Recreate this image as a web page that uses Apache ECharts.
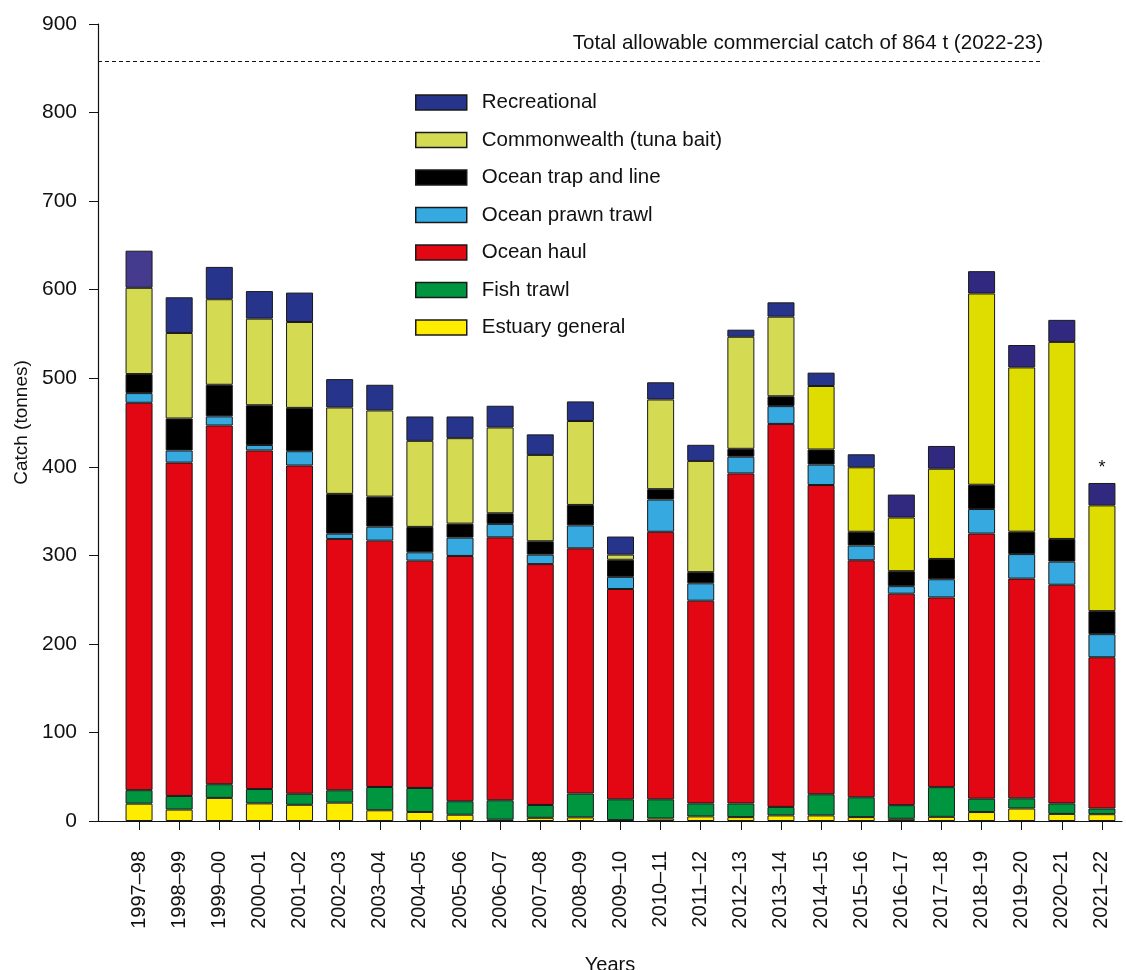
<!DOCTYPE html>
<html>
<head>
<meta charset="utf-8">
<script src="https://cdn.jsdelivr.net/npm/echarts@6/dist/echarts.min.js"></script>
<style>
  html, body { margin: 0; padding: 0; background: #fff; }
  #main { width: 1126px; height: 970px; }
</style>
</head>
<body>
<div id="main"></div>
<script>
(() => {
var years = ['1997–98','1998–99','1999–00','2000–01','2001–02','2002–03','2003–04','2004–05','2005–06','2006–07',
             '2007–08','2008–09','2009–10','2010–11','2011–12','2012–13','2013–14','2014–15','2015–16','2016–17',
             '2017–18','2018–19','2019–20','2020–21','2021–22'];

// catch in tonnes
var estuaryGeneral = [19.6, 12.9, 26.1, 19.9, 18.3, 20.7, 12.1, 10.2, 7.1, 1.5, 3.6, 4.1, 1.0, 2.8, 5.2, 4.4, 6.3, 6.3, 4.4, 2.5, 4.7, 10.1, 14.1, 8.0, 7.7];
var fishTrawl = [15.2, 15.4, 15.4, 16.2, 12.5, 14.0, 26.3, 27.1, 15.2, 21.9, 14.5, 26.9, 23.5, 21.7, 14.7, 15.4, 9.6, 23.9, 22.4, 15.4, 33.5, 15.1, 11.5, 11.9, 6.4];
var oceanHaul = [437.5, 376.4, 405.1, 382.3, 370.6, 283.8, 278.2, 256.7, 277.0, 296.9, 272.0, 276.9, 237.5, 302.1, 228.9, 372.7, 432.5, 349.2, 267.6, 238.8, 214.3, 299.4, 248.1, 246.9, 170.8];
var oceanPrawnTrawl = [10.9, 13.7, 10.3, 6.2, 16.2, 6.0, 15.8, 9.4, 20.7, 15.2, 10.7, 25.9, 13.7, 36.4, 19.6, 18.9, 20.1, 23.1, 16.7, 8.5, 20.5, 27.7, 27.7, 26.1, 26.1];
var oceanTrapLine = [21.5, 36.1, 35.7, 44.9, 48.9, 44.9, 33.9, 28.7, 15.8, 12.0, 15.1, 23.1, 19.3, 11.7, 12.6, 8.9, 11.1, 17.0, 15.5, 16.9, 22.9, 27.4, 25.3, 25.6, 26.0];
var commonwealth = [97.4, 96.6, 96.6, 97.8, 97.0, 97.6, 97.3, 97.2, 96.5, 96.9, 97.5, 94.8, 5.8, 101.3, 125.6, 126.5, 89.9, 71.7, 72.8, 60.6, 101.9, 216.0, 185.5, 222.5, 119.4];
var recreational = [41.9, 40.3, 36.5, 31.1, 33.2, 32.0, 29.0, 27.5, 24.5, 24.5, 23.2, 22.1, 20.4, 19.4, 18.2, 8.0, 16.2, 15.1, 14.7, 25.9, 25.7, 25.2, 25.3, 24.9, 25.3];

var yTicks = [0, 100, 200, 300, 400, 500, 600, 700, 800, 900];
var tacLine = 858;
var tacText = 'Total allowable commercial catch of 864 t (2022-23)';

var colors = {
    'Recreational': '#27348b',
    'Commonwealth (tuna bait)': '#d4da52',
    'Ocean trap and line': '#000000',
    'Ocean prawn trawl': '#36a9e0',
    'Ocean haul': '#e30613',
    'Fish trawl': '#009640',
    'Estuary general': '#ffed00'
};

var font = "'Liberation Sans', Arial, sans-serif";
var myChart = echarts.init(document.getElementById('main'));

function bar(name, data, color) {
    return {
        name: name,
        type: 'bar',
        stack: 'catch',
        xAxisIndex: 1,
        yAxisIndex: 1,
        barWidth: 27,
        data: data,
        itemStyle: {
            color: color || colors[name],
            borderColor: '#1a1a1a',
            borderWidth: 1
        },
        emphasis: { disabled: true }
    };
}

var recSeries = bar('Recreational', recreational, function (p) {
    if (p.dataIndex === 0) return '#443a8e';
    if (p.dataIndex >= 19) return '#31287f';
    return '#27348b';
});
recSeries.label = {
    show: true,
    position: 'top',
    distance: 6,
    fontFamily: font,
    fontSize: 18,
    color: '#111',
    formatter: function (p) { return p.dataIndex === years.length - 1 ? '*' : ''; }
};

var legendNames = ['Recreational', 'Commonwealth (tuna bait)', 'Ocean trap and line', 'Ocean prawn trawl', 'Ocean haul', 'Fish trawl', 'Estuary general'];

var option = {
    animation: false,
    textStyle: { fontFamily: font },
    grid: [
        { left: 98, right: 4, top: 24, bottom: 149, outerBoundsMode: 'none', containLabel: false },
        { left: 119, right: 4, top: 24, bottom: 149, outerBoundsMode: 'none', containLabel: false }
    ],
    legend: {
        orient: 'vertical',
        left: 415,
        top: 92,
        padding: 0,
        itemWidth: 51,
        itemHeight: 15,
        itemGap: 16.5,
        icon: 'rect',
        selectedMode: false,
        textStyle: { fontSize: 20.5, color: '#111', padding: [0, 0, 0, 10] },
        data: legendNames.map(function (n) {
            return { name: n, itemStyle: { color: colors[n], borderColor: '#1a1a1a', borderWidth: 1.5 } };
        })
    },
    xAxis: [
        {
            type: 'value',
            gridIndex: 0,
            min: 0,
            max: 100,
            axisLine: { show: true, lineStyle: { color: '#111', width: 1.2 } },
            axisTick: { show: false },
            axisLabel: { show: false },
            splitLine: { show: false },
            name: 'Years',
            nameLocation: 'middle',
            nameGap: 134,
            nameTextStyle: { fontSize: 20, color: '#111' }
        },
        {
            type: 'category',
            gridIndex: 1,
            data: years,
            axisLine: { show: false },
            axisTick: { show: true, alignWithLabel: true, length: 9, lineStyle: { color: '#111' } },
            axisLabel: { rotate: 90, fontSize: 20, color: '#111', margin: 30, interval: 0 }
        }
    ],
    yAxis: [
        {
            type: 'value',
            gridIndex: 0,
            min: 0,
            max: 900,
            interval: 100,
            axisLine: { show: true, lineStyle: { color: '#111', width: 1.2 } },
            axisTick: { show: true, length: 9, lineStyle: { color: '#111' } },
            axisLabel: {
                fontSize: 21, color: '#111', margin: 21,
                formatter: function (v) { return yTicks.indexOf(v) >= 0 ? String(v) : ''; }
            },
            splitLine: { show: false },
            name: 'Catch (tonnes)',
            nameLocation: 'middle',
            nameGap: 66,
            nameTextStyle: { fontSize: 19, color: '#111' }
        },
        {
            type: 'value',
            gridIndex: 1,
            min: 0,
            max: 900,
            show: false
        }
    ],
    series: [
        bar('Estuary general', estuaryGeneral),
        bar('Fish trawl', fishTrawl),
        bar('Ocean haul', oceanHaul),
        bar('Ocean prawn trawl', oceanPrawnTrawl),
        bar('Ocean trap and line', oceanTrapLine),
        bar('Commonwealth (tuna bait)', commonwealth, function (p) {
            return p.dataIndex >= 17 ? '#dfdc00' : '#d4da52';
        }),
        recSeries,
        {
            type: 'line',
            xAxisIndex: 0,
            yAxisIndex: 0,
            data: [],
            silent: true,
            markLine: {
                symbol: 'none',
                silent: true,
                lineStyle: { type: [4, 3], color: '#111', width: 1.2 },
                label: {
                    show: true,
                    position: 'insideEndTop',
                    formatter: tacText,
                    fontSize: 20.6,
                    color: '#111',
                    distance: [0, 7]
                },
                data: [[{ coord: [0, tacLine] }, { coord: [92.3, tacLine] }]]
            }
        }
    ]
};
myChart.setOption(option);
})();
</script>
</body>
</html>
